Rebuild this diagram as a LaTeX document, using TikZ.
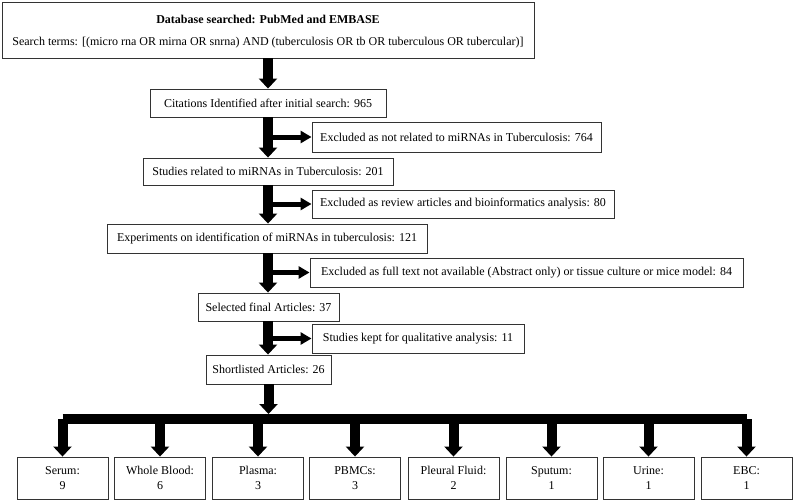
\documentclass[tikz,border=0pt]{standalone}
\usepackage{fontspec}
\setmainfont{Liberation Serif}
\usetikzlibrary{arrows.meta}
\begin{document}
\begin{tikzpicture}[x=1pt,y=-1pt,
  box/.style={draw=black!80, line width=0.9pt, inner sep=0pt, font=\fontsize{12}{14.5}\selectfont, align=center},
  bigarrow/.style={line width=10pt, -{Triangle[width=18pt,length=10pt]}},
  sidearrow/.style={line width=5pt, -{Triangle[width=12pt,length=11pt]}},
  barline/.style={line width=10pt, line cap=square}]
\useasboundingbox (0,0) rectangle (793,501);
\fill[white] (0,0) rectangle (793,501);
% main column
\node[box, minimum width=532pt, minimum height=56pt] (b1) at (268,30) {};
\node[font=\fontsize{12}{14}\selectfont\bfseries] (t1) at (268,19) {Database searched: PubMed and EMBASE};
\node[font=\fontsize{12}{14}\selectfont] (t2) at (268,43) {Search terms: [(micro rna OR mirna OR snrna) AND (tuberculosis OR tb OR tuberculous OR tubercular)]};
\node[box, minimum width=236pt, minimum height=28pt] (b2) at (268,103) {Citations Identified after initial search: 965};
\node[box, minimum width=250pt, minimum height=27pt] (b3) at (268,171.5) {Studies related to miRNAs in Tuberculosis: 201};
\node[box, minimum width=320pt, minimum height=29pt] (b4) at (267,238.5) {Experiments on identification of miRNAs in tuberculosis: 121};
\node[box, minimum width=141pt, minimum height=28pt] (b5) at (268.5,307) {Selected final Articles: 37};
\node[box, minimum width=125pt, minimum height=29pt] (b6) at (268.5,369.5) {Shortlisted Articles: 26};
% excluded boxes
\node[box, minimum width=289pt, minimum height=30pt] (e1) at (456.5,137) {Excluded as not related to miRNAs in Tuberculosis: 764};
\node[box, minimum width=302pt, minimum height=28pt] (e2) at (463,204) {Excluded as review articles and bioinformatics analysis: 80};
\node[box, minimum width=433pt, minimum height=29pt] (e3) at (526.5,272.5) {Excluded as full text not available (Abstract only) or tissue culture or mice model: 84};
\node[box, minimum width=212pt, minimum height=29pt] (e4) at (418,338.5) {Studies kept for qualitative analysis: 11};
% bottom boxes
\foreach \n/\x/\t/\v in {s1/62.5/Serum/9, s2/160/Whole Blood/6, s3/258/Plasma/3, s4/355/PBMCs/3, s5/453.5/Pleural Fluid/2, s6/551.5/Sputum/1, s7/648.5/Urine/1, s8/746.5/EBC/1}
  \node[box, minimum width=91pt, minimum height=42pt] (\n) at (\x,478) {\t:\\\v};
% main arrows
\draw[bigarrow] (b1.south -| b2.north) -- (b2.north);
\draw[bigarrow] (b2.south) -- (b3.north);
\draw[bigarrow] (b3.south) -- (b4.north -| b3.south);
\draw[bigarrow] (b4.south -| b3.south) -- (b5.north -| b3.south);
\draw[bigarrow] (b5.south -| b3.south) -- (b6.north -| b3.south);
% side arrows
\draw[sidearrow] (e1.west -| b2.south) -- (e1.west);
\draw[sidearrow] (e2.west -| b2.south) -- (e2.west);
\draw[sidearrow] (e3.west -| b2.south) -- (e3.west);
\draw[sidearrow] (e4.west -| b2.south) -- (e4.west);
% distribution bar
\coordinate (barL) at (62.5,419);
\coordinate (barR) at (746.5,419);
\coordinate (barTop) at (268.5,414);
\draw[barline] (barL) -- (barR);
\draw[bigarrow] (b6.south) -- (barTop);
\foreach \n in {s1,s2,s3,s4,s5,s6,s7,s8}
  \draw[bigarrow] (\n.north |- barL) -- (\n.north);
\end{tikzpicture}
\end{document}
